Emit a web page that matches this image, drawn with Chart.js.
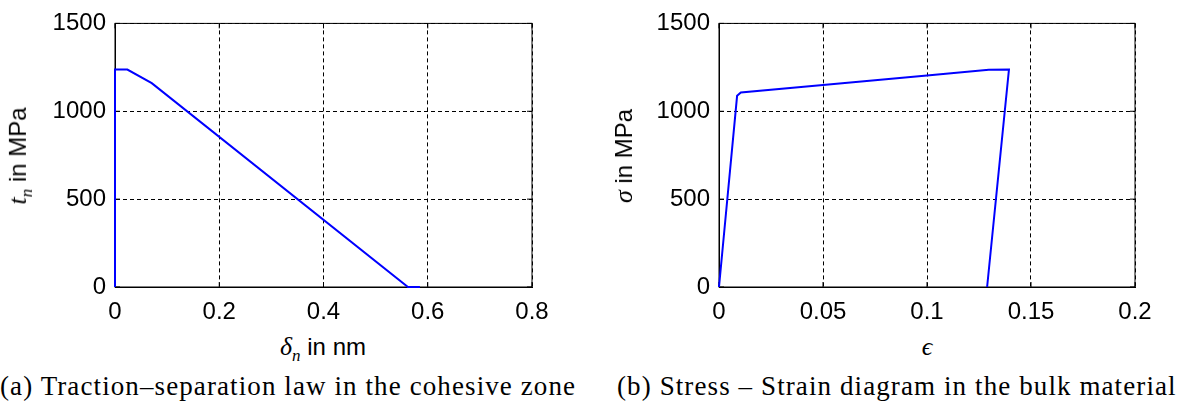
<!DOCTYPE html>
<html>
<head>
<meta charset="utf-8">
<script src="https://cdn.jsdelivr.net/npm/chart.js@4"></script>
<style>
  body { margin: 0; background: #fff; width: 1179px; height: 407px; position: relative; overflow: hidden; }
  canvas { position: absolute; top: 0; }
  .lbl { position: absolute; font-family: 'Liberation Sans', sans-serif; font-size: 24px; color: #000; white-space: nowrap; }
  .math { font-family: 'Liberation Serif', serif; font-style: italic; font-size: 26px; }
  .cap { position: absolute; font-family: 'Liberation Serif', serif; font-size: 27px; letter-spacing: 1.1px; color: #000; white-space: nowrap; }
  .rot { transform: translate(-50%, -50%) rotate(-90deg); }
  .ctr { transform: translate(-50%, -50%); }
</style>
</head>
<body>
<canvas id="sepChart" width="560" height="330" style="left:0"></canvas>
<canvas id="bulkChart" width="579" height="330" style="left:600px"></canvas>

<div class="lbl rot" style="left:20px; top:156px"><span class="math">t<sub style="font-size:17px">n</sub></span> in MPa</div>
<div class="lbl ctr" style="left:323px; top:349px"><span class="math">δ<sub style="font-size:17px">n</sub></span> in nm</div>
<div class="lbl rot" style="left:624px; top:156px"><span class="math">σ</span> in MPa</div>
<div class="lbl ctr" style="left:927px; top:347px"><span class="math">ϵ</span></div>

<div class="cap" style="left:0; top:371px">(a) Traction–separation law in the cohesive zone</div>
<div class="cap" style="left:617px; top:371px">(b) Stress – Strain diagram in the bulk material</div>

<script>
// cohesive zone: traction vs separation
var sepX = [0, 0, 0.0237, 0.0705, 0.562, 0.585];
var sepT = [0, 1237, 1237, 1160, 0, 0];

// bulk material: stress vs strain
var strainX = [0, 0.0087, 0.0105, 0.05, 0.1, 0.1297, 0.1394, 0.1289];
var stressY = [0, 1088, 1107, 1150, 1204, 1236, 1237, 0];

var sepTicksX = [0, 0.2, 0.4, 0.6, 0.8];
var bulkTicksX = [0, 0.05, 0.1, 0.15, 0.2];
var ticksY = [0, 500, 1000, 1500];

var tickFont = { family: 'Liberation Sans', size: 24 };

// box round the plot and small inner tick marks like matlab
var boxPlugin = {
  id: 'box',
  beforeDatasetsDraw: function (chart) {
    var a = chart.chartArea, ctx = chart.ctx;
    var xs = chart.scales.x, ys = chart.scales.y;
    ctx.save();
    ctx.strokeStyle = '#000';
    ctx.lineWidth = 1;
    ctx.setLineDash([]);
    ctx.strokeRect(a.left, a.top, a.right - a.left, a.bottom - a.top);
    ctx.beginPath();
    xs.ticks.forEach(function (t) {
      var px = xs.getPixelForValue(t.value);
      ctx.moveTo(px, a.bottom); ctx.lineTo(px, a.bottom - 5);
      ctx.moveTo(px, a.top); ctx.lineTo(px, a.top + 5);
    });
    ys.ticks.forEach(function (t) {
      var py = ys.getPixelForValue(t.value);
      ctx.moveTo(a.left, py); ctx.lineTo(a.left + 5, py);
      ctx.moveTo(a.right, py); ctx.lineTo(a.right - 5, py);
    });
    ctx.stroke();
    ctx.restore();
  }
};

function makeChart(id, xs, ys, xTicks, yWidth, padRight) {
  var pts = xs.map(function (x, i) { return { x: x, y: ys[i] }; });
  return new Chart(document.getElementById(id), {
    type: 'scatter',
    data: {
      datasets: [{
        data: pts,
        showLine: true,
        borderColor: '#0000ff',
        borderWidth: 2,
        pointRadius: 0,
        tension: 0,
        clip: 3
      }]
    },
    options: {
      responsive: false,
      animation: false,
      devicePixelRatio: 1,
      layout: { padding: { top: 17, right: padRight, left: 0, bottom: 0 } },
      plugins: { legend: { display: false }, tooltip: { enabled: false } },
      scales: {
        x: {
          type: 'linear', min: 0, max: xTicks[xTicks.length - 1],
          afterFit: function (s) { s.height = 43; },
          afterBuildTicks: function (s) { s.ticks = xTicks.map(function (v) { return { value: v }; }); },
          ticks: { font: tickFont, color: '#000', padding: 11, maxRotation: 0,
            callback: function (v) { return String(+v.toFixed(4)); } },
          grid: { color: '#000', lineWidth: 1, drawTicks: false },
          border: { color: '#000', width: 1, dash: [4, 3] }
        },
        y: {
          type: 'linear', min: 0, max: 1500,
          afterFit: function (s) { s.width = yWidth; },
          afterBuildTicks: function (s) { s.ticks = ticksY.map(function (v) { return { value: v }; }); },
          ticks: { font: tickFont, color: '#000', padding: 9,
            callback: function (v) { return String(v); } },
          grid: { color: '#000', lineWidth: 1, drawTicks: false },
          border: { color: '#000', width: 1, dash: [4, 3] }
        }
      }
    },
    plugins: [boxPlugin]
  });
}

makeChart('sepChart', sepX, sepT, sepTicksX, 115, 28);
makeChart('bulkChart', strainX, stressY, bulkTicksX, 119, 44);
</script>
</body>
</html>
